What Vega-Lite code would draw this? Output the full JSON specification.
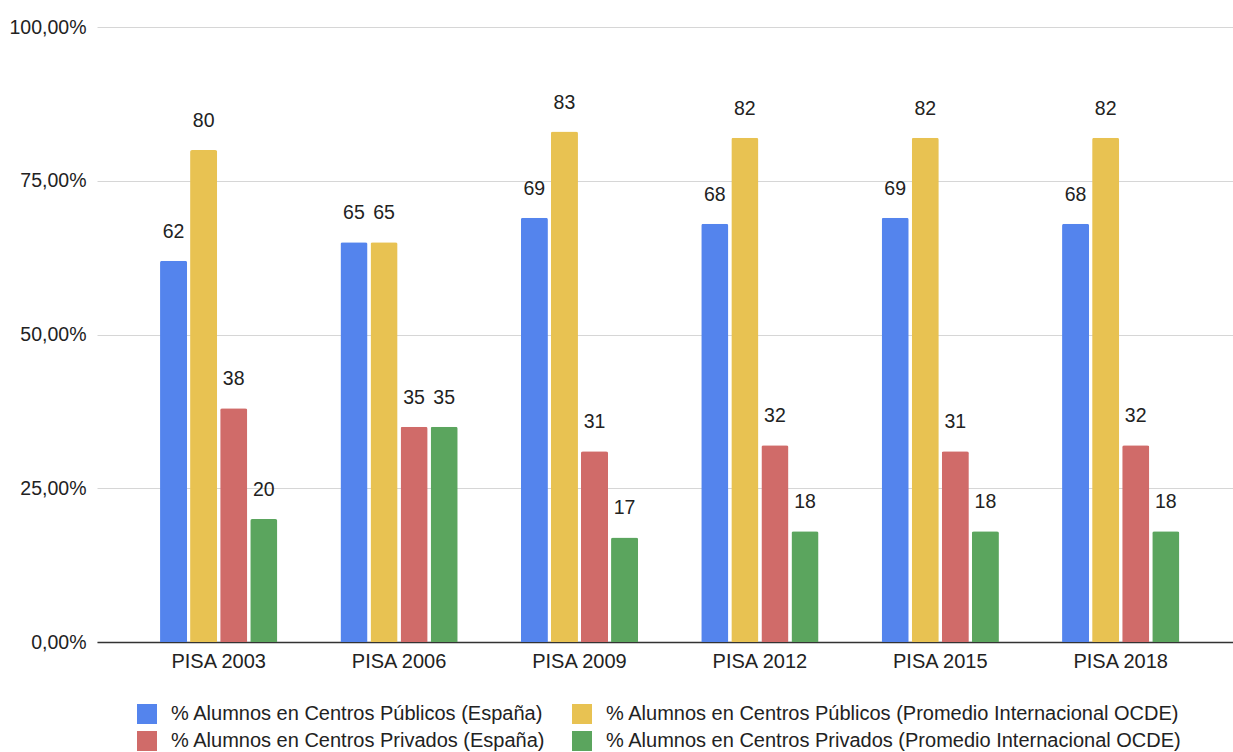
{
  "$schema": "https://vega.github.io/schema/vega-lite/v6.json",
  "width": 1136,
  "height": 615,
  "autosize": {"type": "none"},
  "padding": {"left": 97, "top": 27, "right": 0, "bottom": 110},
  "background": "white",
  "config": {
    "font": "Liberation Sans",
    "view": {"stroke": null},
    "axis": {"labelFont": "Liberation Sans", "labelColor": "#222222", "labelFontSize": 20, "title": null}
  },
  "data": {
    "values": [
      {"prueba": "PISA 2003", "serie": "% Alumnos en Centros Públicos (España)", "valor": 62},
      {"prueba": "PISA 2003", "serie": "% Alumnos en Centros Públicos (Promedio Internacional OCDE)", "valor": 80},
      {"prueba": "PISA 2003", "serie": "% Alumnos en Centros Privados (España)", "valor": 38},
      {"prueba": "PISA 2003", "serie": "% Alumnos en Centros Privados (Promedio Internacional OCDE)", "valor": 20},
      {"prueba": "PISA 2006", "serie": "% Alumnos en Centros Públicos (España)", "valor": 65},
      {"prueba": "PISA 2006", "serie": "% Alumnos en Centros Públicos (Promedio Internacional OCDE)", "valor": 65},
      {"prueba": "PISA 2006", "serie": "% Alumnos en Centros Privados (España)", "valor": 35},
      {"prueba": "PISA 2006", "serie": "% Alumnos en Centros Privados (Promedio Internacional OCDE)", "valor": 35},
      {"prueba": "PISA 2009", "serie": "% Alumnos en Centros Públicos (España)", "valor": 69},
      {"prueba": "PISA 2009", "serie": "% Alumnos en Centros Públicos (Promedio Internacional OCDE)", "valor": 83},
      {"prueba": "PISA 2009", "serie": "% Alumnos en Centros Privados (España)", "valor": 31},
      {"prueba": "PISA 2009", "serie": "% Alumnos en Centros Privados (Promedio Internacional OCDE)", "valor": 17},
      {"prueba": "PISA 2012", "serie": "% Alumnos en Centros Públicos (España)", "valor": 68},
      {"prueba": "PISA 2012", "serie": "% Alumnos en Centros Públicos (Promedio Internacional OCDE)", "valor": 82},
      {"prueba": "PISA 2012", "serie": "% Alumnos en Centros Privados (España)", "valor": 32},
      {"prueba": "PISA 2012", "serie": "% Alumnos en Centros Privados (Promedio Internacional OCDE)", "valor": 18},
      {"prueba": "PISA 2015", "serie": "% Alumnos en Centros Públicos (España)", "valor": 69},
      {"prueba": "PISA 2015", "serie": "% Alumnos en Centros Públicos (Promedio Internacional OCDE)", "valor": 82},
      {"prueba": "PISA 2015", "serie": "% Alumnos en Centros Privados (España)", "valor": 31},
      {"prueba": "PISA 2015", "serie": "% Alumnos en Centros Privados (Promedio Internacional OCDE)", "valor": 18},
      {"prueba": "PISA 2018", "serie": "% Alumnos en Centros Públicos (España)", "valor": 68},
      {"prueba": "PISA 2018", "serie": "% Alumnos en Centros Públicos (Promedio Internacional OCDE)", "valor": 82},
      {"prueba": "PISA 2018", "serie": "% Alumnos en Centros Privados (España)", "valor": 32},
      {"prueba": "PISA 2018", "serie": "% Alumnos en Centros Privados (Promedio Internacional OCDE)", "valor": 18}
    ]
  },
  "encoding": {
    "x": {
      "field": "prueba",
      "type": "nominal",
      "sort": null,
      "scale": {"paddingInner": 0.35, "paddingOuter": 0.3235, "align": 0.54},
      "axis": {
        "labelAngle": 0,
        "ticks": false,
        "labelPadding": 9,
        "domainColor": "#333333",
        "domainWidth": 1.5,
        "grid": false
      }
    },
    "xOffset": {
      "field": "serie",
      "type": "nominal",
      "sort": null,
      "scale": {"paddingInner": 0.1, "paddingOuter": 0}
    },
    "y": {
      "field": "valor",
      "type": "quantitative",
      "scale": {"domain": [0, 100], "nice": false},
      "axis": {
        "values": [0, 25, 50, 75, 100],
        "labelExpr": "replace(format(datum.value, '.2f'), '.', ',') + '%'",
        "labelFontSize": 19.5,
        "domain": false,
        "ticks": false,
        "labelPadding": 11,
        "gridColor": "#d6d6d6",
        "gridWidth": 1
      }
    }
  },
  "layer": [
    {
      "mark": {"type": "bar", "cornerRadiusTopLeft": 2, "cornerRadiusTopRight": 2},
      "encoding": {
        "color": {
          "field": "serie",
          "type": "nominal",
          "sort": null,
          "scale": {
            "domain": [
              "% Alumnos en Centros Públicos (España)",
              "% Alumnos en Centros Públicos (Promedio Internacional OCDE)",
              "% Alumnos en Centros Privados (España)",
              "% Alumnos en Centros Privados (Promedio Internacional OCDE)"
            ],
            "range": ["#5484ED", "#E8C252", "#D06B69", "#5BA55E"]
          },
          "legend": {
            "title": null,
            "orient": "none",
            "legendX": 40,
            "legendY": 677,
            "direction": "horizontal",
            "columns": 2,
            "columnPadding": 26,
            "rowPadding": 7,
            "symbolType": "square",
            "symbolSize": 400,
            "symbolStrokeWidth": 0,
            "labelFontSize": 20,
            "labelColor": "#222222",
            "labelOffset": 14,
            "labelLimit": 0
          }
        }
      }
    },
    {
      "mark": {"type": "text", "baseline": "alphabetic", "dy": -23, "fontSize": 19.5, "color": "#222222"},
      "encoding": {
        "text": {"field": "valor", "type": "quantitative"}
      }
    }
  ]
}
